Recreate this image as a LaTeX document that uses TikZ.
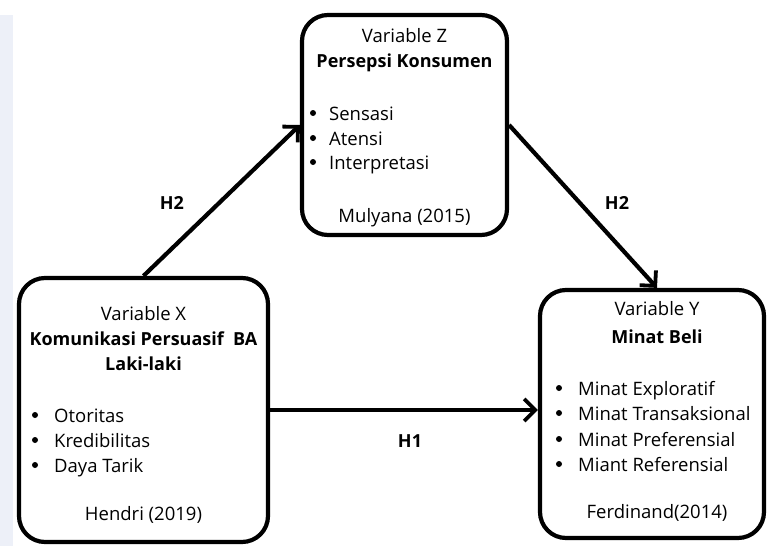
\documentclass[tikz,border=0pt]{standalone}
\usepackage{fontspec}
\setmainfont{Open Sans}
\usetikzlibrary{arrows.meta}
\definecolor{stripc}{HTML}{EDF0F8}
\tikzset{
  box/.style={draw=black, line width=4.2pt, rounded corners=26pt, fill=white},
  conn/.style={line width=4.2pt, -{Straight Barb[length=11pt,width=22pt,line width=3.8pt]}},
  txt/.style={font=\fontsize{18.5}{22}\selectfont, inner sep=0pt, anchor=base},
  btxt/.style={font=\fontsize{18}{22}\selectfont\bfseries, inner sep=0pt, anchor=base},
  item/.style={font=\fontsize{18.5}{22}\selectfont, inner sep=0pt, anchor=base west},
  dot/.style={circle, fill=black, inner sep=0pt, minimum size=6pt},
  hlab/.style={font=\fontsize{18}{22}\selectfont\bfseries, inner sep=0pt}
}
\begin{document}
\begin{tikzpicture}[x=1pt,y=-1pt]
\useasboundingbox (0,0) rectangle (768,546);
\fill[white] (0,0) rectangle (768,546);
\fill[stripc] (0,15) rectangle (13,546);
% boxes
\node[box, minimum width=205pt, minimum height=220pt] (zbox) at (404.5,125) {};
\node[box, minimum width=249pt, minimum height=264pt] (xbox) at (143.5,410) {};
\node[box, minimum width=224pt, minimum height=248pt] (ybox) at (652,414) {};
% Z texts
\node[txt] (z1) at (404.5,42) {Variable Z};
\node[btxt] (z2) at (404.5,67) {Persepsi Konsumen};
\node[dot] (zd1) at (313,113) {};
\node[dot] (zd2) at (313,138) {};
\node[dot] (zd3) at (313,162) {};
\node[item] (zi1) at (329,120) {Sensasi};
\node[item] (zi2) at (329,145) {Atensi};
\node[item] (zi3) at (329,169) {Interpretasi};
\node[txt] (z3) at (404.5,222) {Mulyana (2015)};
% X texts
\node[txt] (x1) at (143.5,320) {Variable X};
\node[btxt] (x2) at (143.5,345) {Komunikasi Persuasif\ \ BA};
\node[btxt] (x3) at (143.5,370) {Laki-laki};
\node[dot] (xd1) at (35,415) {};
\node[dot] (xd2) at (35,440) {};
\node[dot] (xd3) at (35,465) {};
\node[item] (xi1) at (54,422) {Otoritas};
\node[item] (xi2) at (54,447) {Kredibilitas};
\node[item] (xi3) at (54,472) {Daya Tarik};
\node[txt] (x4) at (143.5,520) {Hendri (2019)};
% Y texts
\node[txt] (y1) at (657,315) {Variable Y};
\node[btxt] (y2) at (657,343) {Minat Beli};
\node[dot] (yd1) at (559,388) {};
\node[dot] (yd2) at (559,413) {};
\node[dot] (yd3) at (559,439) {};
\node[dot] (yd4) at (559,464) {};
\node[item] (yi1) at (578,395) {Minat Exploratif};
\node[item] (yi2) at (578,420) {Minat Transaksional};
\node[item] (yi3) at (578,446) {Minat Preferensial};
\node[item] (yi4) at (578,471) {Miant Referensial};
\node[txt] (y3) at (657,518) {Ferdinand(2014)};
% connectors
\coordinate (ytop) at ([xshift=5pt]ybox.north);
\draw[conn] (xbox.north) -- (zbox.west);
\draw[conn] (zbox.east) -- (ytop);
\draw[conn] (xbox.east) -- (xbox.east -| ybox.west);
% labels
\node[hlab] (h2a) at (172,203) {H2};
\node[hlab] (h2b) at (617,203) {H2};
\node[hlab] (h1) at (410,441) {H1};
\end{tikzpicture}
\end{document}
